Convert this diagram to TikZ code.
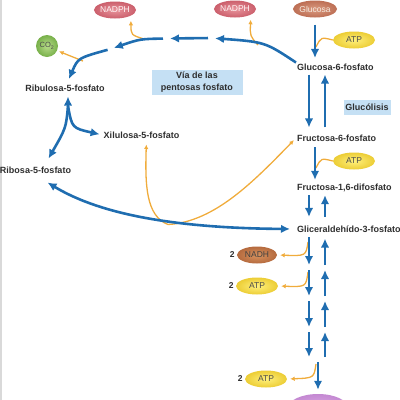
\documentclass[tikz,border=0pt]{standalone}
\usepackage{fontspec}
\setmainfont{Liberation Sans}
\usetikzlibrary{arrows.meta,shapes.geometric,positioning}

\definecolor{pathblue}{HTML}{1F6DB0}
\definecolor{feedorange}{HTML}{F0AC3C}
\definecolor{boxblue}{HTML}{C5E0F4}
\definecolor{labelgray}{HTML}{2E2E2E}
\definecolor{nadphin}{HTML}{E8949C}
\definecolor{nadphout}{HTML}{CB5F6C}
\definecolor{glcin}{HTML}{DA9A80}
\definecolor{glcout}{HTML}{BD6F55}
\definecolor{atpin}{HTML}{FFF07C}
\definecolor{atpout}{HTML}{ECCD35}
\definecolor{nadhin}{HTML}{D8935F}
\definecolor{nadhout}{HTML}{B56A3E}
\definecolor{co2in}{HTML}{B8DC8A}
\definecolor{co2out}{HTML}{78B04A}
\definecolor{pyrin}{HTML}{DDA8E6}
\definecolor{pyrout}{HTML}{C489D2}

\begin{document}
\begin{tikzpicture}[x=1pt,y=-1pt]
\useasboundingbox (0,0) rectangle (400,400);
\tikzset{compound/.style = {anchor=west, inner sep=1pt, text=labelgray, font=\bfseries\fontsize{9}{11}\selectfont}}
\tikzset{cofactor/.style = {ellipse, minimum width=42pt, minimum height=17pt, inner sep=0pt, font=\fontsize{8.5}{10}\selectfont}}
\tikzset{area/.style = {fill=boxblue, align=center, inner sep=0pt, text=labelgray, font=\bfseries\fontsize{9}{11.5}\selectfont}}
\tikzset{count/.style = {inner sep=0pt, text=labelgray, font=\bfseries\fontsize{8.5}{10}\selectfont}}
\tikzset{atp/.style = {cofactor, inner color=atpin, outer color=atpout, text=black!70}}
\tikzset{nadph/.style = {cofactor, inner color=nadphin, outer color=nadphout, text=white!88!pink}}

% page edge
\draw[line width=1.5pt, black!15] (1,0) -- (1,400);

% vertices
\node[compound] (g6p) at (296,67) {Glucosa-6-fosfato};
\node[compound] (f6p) at (296,138) {Fructosa-6-fosfato};
\node[compound] (f16) at (296,188) {Fructosa-1,6-difosfato};
\node[compound] (g3p) at (296,229) {Gliceraldehído-3-fosfato};
\node[compound, anchor=center] (ru5p) at (65,88) {Ribulosa-5-fosfato};
\node[compound, anchor=center] (x5p) at (141.5,135) {Xilulosa-5-fosfato};
\node[compound, anchor=center] (r5p) at (35.5,170) {Ribosa-5-fosfato};

\node[area, minimum width=91pt, minimum height=25pt] (via) at (197,82) {Vía de las\\pentosas fosfato};
\node[area, minimum width=47pt, minimum height=15pt] (gluc) at (367,107) {Glucólisis};

\node[nadph] (nadpha) at (115,10) {NADPH};
\node[nadph] (nadphb) at (235,9) {NADPH};
\node[cofactor, inner color=glcin, outer color=glcout, text=white!85!brown] (glc) at (315,9) {Glucosa};
\node[atp] (atpa) at (354,40) {ATP};
\node[atp] (atpb) at (354,161) {ATP};
\node[cofactor, minimum width=40pt, inner color=nadhin, outer color=nadhout, text=black!75] (nadh) at (257,255) {NADH};
\node[atp] (atpc) at (257,286) {ATP};
\node[atp] (atpd) at (266,379) {ATP};
\node[count, left=2pt of nadh] (n1) {2};
\node[count, left=2pt of atpc] (n2) {2};
\node[count, left=2pt of atpd] (n3) {2};
\node[circle, minimum size=22pt, inner sep=0pt, inner color=co2in, outer color=co2out, text=black!70, font=\fontsize{7.5}{9}\selectfont] (co2) at (47,46) {CO\textsubscript{2}};
\node[ellipse, minimum width=60pt, minimum height=28pt, inner color=pyrin, outer color=pyrout] (pyr) at (318,408) {};

% fixed points on the flows
\coordinate (dn) at (309,0);
\coordinate (up) at (325,0);
\coordinate (mid) at (315,0);
\coordinate (s1) at (316,267.5);
\coordinate (s2) at (316,298.5);
\coordinate (s3) at (316,329.5);
\coordinate (s4) at (316,359.5);
\coordinate (a1) at (211.5,38);
\coordinate (a2) at (166.5,38.5);
\coordinate (a3) at (110.5,49);
\coordinate (fk) at (68,106);

%edges
\tikzset{edge/.style = {line width=1.3pt, feedorange}}
\tikzset{feedarr/.style = {edge, -{Latex[length=4.5pt,width=4.5pt]}}}
\draw[edge] (atpa.west) .. controls (321,37) .. (316,47);
\draw[edge] (atpb.west) .. controls (321,158) .. (316,168);
\draw[feedarr, shorten >=3pt] (308,242) .. controls (306,256) .. (nadh.east);
\draw[feedarr, shorten >=3pt] (308,272) .. controls (306,287) .. (atpc.east);
\draw[feedarr, shorten >=3pt] (316,364) .. controls (314,378) .. (atpd.east);
\draw[feedarr, shorten >=5pt] (258,45) .. controls (250,36) .. (nadphb.-20);
\draw[feedarr, shorten >=5pt] (144,39) .. controls (131,35) .. (nadpha.-20);
\draw[feedarr, shorten >=2pt] (83,61) .. controls (72,57) .. (co2);
\draw[feedarr, shorten >=5pt] (168,224.5) .. controls (146,216) and (145,185) .. ([xshift=5pt]x5p.south);
\draw[feedarr, shorten >=3pt] (168,224.5) .. controls (215,222) and (255,180) .. (f6p.west);

\tikzset{edge/.style = {-{Latex[length=9pt,width=8.5pt]}, line width=2.6pt, pathblue}}
\draw[edge, shorten <=7pt, shorten >=4.5pt] (glc) -- (glc |- g6p.north);
\draw[edge, shorten <=3pt, shorten >=6pt] (g6p.south -| dn) -- (f6p.north -| dn);
\draw[edge, shorten <=6pt, shorten >=3pt] (f6p.north -| up) -- (g6p.south -| up);
\draw[edge, shorten <=4.5pt, shorten >=3pt] (f6p.south -| mid) -- (f16.north -| mid);
\draw[edge, shorten <=2pt, shorten >=7.5pt] (f16.south -| dn) -- (g3p.north -| dn);
\draw[edge, shorten <=7.5pt, shorten >=2pt] (g3p.north -| up) -- (f16.south -| up);
\draw[edge, shorten <=3.5pt, shorten >=2.5pt] (g3p.south -| dn) -- (s1 -| dn);
\draw[edge, shorten <=2.5pt, shorten >=5pt] (s1 -| up) -- (g3p.south -| up);
\foreach \a/\b in {s1/s2, s2/s3, s3/s4} {
  \draw[edge, shorten <=2.5pt, shorten >=2.5pt] (\a -| dn) -- (\b -| dn);
  \draw[edge, shorten <=2.5pt, shorten >=2.5pt] (\b -| up) -- (\a -| up);
}
\draw[edge, shorten <=2.5pt, shorten >=4pt] (s4 -| pyr) -- (pyr.north);

\draw[edge, shorten >=3.5pt] (g6p.north west) .. controls (265,42) .. (a1);
\draw[edge, shorten <=3.5pt, shorten >=3.5pt] (a1) -- (a2);
\draw[edge, shorten <=3.5pt, shorten >=3.5pt] (a2) .. controls (140,39) .. (a3);
\draw[edge, shorten <=3pt, shorten >=5pt] (a3) .. controls (78,58) .. (ru5p);

\draw[edge, shorten >=4pt] (fk) -- (ru5p.south -| fk);
\draw[edge, shorten >=8pt] (fk) .. controls (66,128) .. ([xshift=9pt]r5p.north);
\draw[edge, shorten >=3pt] (fk) .. controls (72,128) .. (x5p.west);
\draw[edge, {Latex[length=9pt,width=8.5pt]}-{Latex[length=9pt,width=8.5pt]}, shorten >=6pt] ([xshift=12pt,yshift=-8pt]r5p.south) .. controls (88,207) and (150,228) .. (g3p.west);

\end{tikzpicture}
\end{document}
